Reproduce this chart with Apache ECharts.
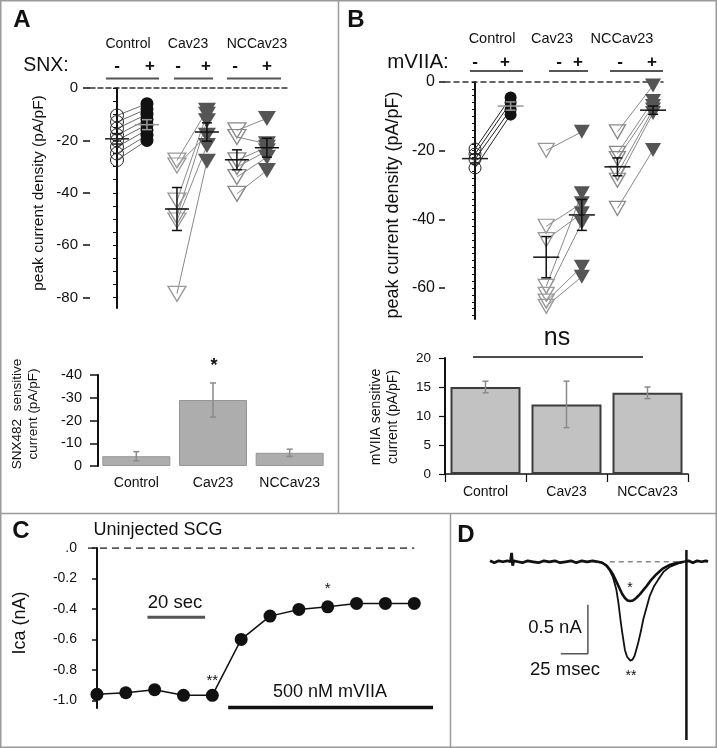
<!DOCTYPE html>
<html><head><meta charset="utf-8">
<script src="https://cdn.jsdelivr.net/npm/echarts@6/dist/echarts.min.js"></script>
<style>html,body{margin:0;padding:0;background:#fff}#c{width:717px;height:748px}</style>
</head><body><div id="c"></div>
<script>
// ---------- DATA ----------
// Panel A (SNX482), x index: 0 Control-,1 Control+,2 Cav23-,3 Cav23+,4 NCCav23-,5 NCCav23+
const groupNames = ['Control', 'Cav23', 'NCCav23'];
const aCtrlMinus = [-10.5, -13, -15.5, -18, -20, -22.5, -25, -27.5];
const aCtrlPlus  = [-6, -8, -10, -12, -14, -16, -18, -20];
const aCavMinus  = [-27.7, -43, -49, -29.6, -50.6, -78.6];
const aCavPlus   = [-8.5, -10, -12.5, -18, -22, -28];
const aNccMinus  = [-16.2, -18.7, -27.6, -30.2, -34, -40.4];
const aNccPlus   = [-11.6, -21.3, -22.6, -24, -26.4, -31.5];
const aMean = [-19.4, -14, -46.2, -16.8, -27.4, -22.8];
const aSE   = [2, 1.9, 8.2, 3.5, 3.8, 3.6];
const aTickLabels = [0, -20, -40, -60, -80];
const aMinorTicks = [0,-5,-10,-15,-20,-25,-30,-35,-40,-45,-50,-55,-60,-65,-70,-75,-80];

// Panel A bars (SNX482 sensitive current, plotted as magnitude)
const snxBar = [4.3, 29, 5.8];
const snxErr = [2, 7.5, 1.6];

// Panel B (mVIIA)
const bCtrlMinus = [-19.5, -21, -22.5, -25];
const bCtrlPlus  = [-4.5, -6, -8, -9.5];
const bCavMinus  = [-19.9, -42, -45.9, -59.5, -61.8, -63.8, -65.3];
const bCavPlus   = [-14.5, -35.3, -38.2, -32.4, -41, -53.8, -56.7];
const bNccMinus  = [-14.5, -20.8, -22.3, -26.6, -28.6, -36.8];
const bNccPlus   = [-1, -5.5, -7, -8, -9, -19.8];
const bMean = [-22.3, -7, -51, -38.7, -24.7, -8.2];
const bSE   = [1.3, 1.2, 6, 4.5, 2.6, 1.2];
const bTickLabels = [0, -20, -40, -60];
const bMinorTicks = [0,-2,-4,-6,-8,-10,-12,-14,-16,-18,-20,-22,-24,-26,-28,-30,-32,-34,-36,-38,-40,-42,-44,-46,-48,-50,-52,-54,-56,-58,-60,-62,-64,-66,-68];

// Panel B bars
const mviiaBar = [15, 12, 14];
const mviiaErr = [1, 4, 1];

// Panel C time course
const cTime = [0, 10, 20, 30, 40, 50, 60, 70, 80, 90, 100, 110];
const cIca  = [-0.96, -0.95, -0.93, -0.967, -0.967, -0.6, -0.447, -0.403, -0.386, -0.364, -0.364, -0.364];
const cTickLabels = [0, -0.2, -0.4, -0.6, -0.8, -1.0];
const cStars = {4: '**', 8: '*'};

// Panel D traces (time ms, current nA)
const dPre = [[0,0.01],[4,-0.01],[8,0.01],[12,0],[16,0.01],[19,0],[20,0.09],[21,-0.04],[22,0.01],[26,0],[30,-0.01],[35,0.01],[40,0],[45,-0.01],[50,0.01],[55,0],[60,0.01],[65,-0.01],[70,0],[75,0.01],[80,-0.01],[85,0.01],[90,0],[95,0.01],[100,0]];
const dLarge = [[100,0],[104,-0.01],[108,-0.04],[111,-0.09],[114,-0.16],[117,-0.28],[119,-0.42],[121,-0.6],[122.5,-0.72],[125,-0.9],[127,-0.97],[130,-1.01],[132,-1.0],[134,-0.96],[136,-0.88],[137.5,-0.82],[140,-0.7],[142,-0.59],[145,-0.47],[148,-0.35],[152,-0.25],[156,-0.18],[161,-0.1],[167,-0.05],[174,-0.02],[180,0]];
const dSmall = [[100,0],[104,-0.01],[108,-0.04],[111,-0.08],[114,-0.13],[117,-0.2],[120,-0.27],[122.5,-0.33],[125,-0.37],[127.5,-0.395],[130,-0.4],[132.5,-0.395],[135.5,-0.37],[139,-0.33],[142,-0.29],[145,-0.25],[149,-0.19],[154,-0.13],[160,-0.07],[167,-0.03],[174,-0.01],[180,0]];
const dArtifact = [[182,0.12],[182,-1.82]];
const dPost = [[180,0],[184,0.01],[188,-0.01],[192,0.01],[196,0],[200,0.01],[202,0]];

// ---------- CHART ----------
const FONT = '"Liberation Sans", Arial, Helvetica, sans-serif';
const chart = echarts.init(document.getElementById('c'), null, {renderer: 'canvas'});
const series = [];

function pairLines(ax, xi, minus, plus, color, width) {
  minus.forEach((v, k) => series.push({
    type: 'line', xAxisIndex: ax, yAxisIndex: ax, data: [[xi, v], [xi + 1, plus[k]]],
    symbol: 'none', lineStyle: {color: color, width: width}, silent: true, z: 1, animation: false
  }));
}
function pts(ax, xi, vals, symbol, size, style, rot) {
  series.push({
    type: 'scatter', xAxisIndex: ax, yAxisIndex: ax, data: vals.map(v => [xi, v]),
    symbol: symbol, symbolSize: size, symbolRotate: rot || 0,
    itemStyle: Object.assign({opacity: 1}, style), silent: true, z: 2, animation: false
  });
}
function meanSE(ax, means, ses, colors, half) {
  series.push({
    type: 'custom', xAxisIndex: ax, yAxisIndex: ax, silent: true, z: 5, animation: false,
    data: means.map((m, i) => [i, m, ses[i]]),
    renderItem: function (p, api) {
      const i = api.value(0), m = api.value(1), s = api.value(2);
      const c = api.coord([i, m]), t = api.coord([i, m + s]), b = api.coord([i, m - s]);
      const st = {stroke: colors[i], lineWidth: 1.5};
      return {type: 'group', children: [
        {type: 'line', shape: {x1: c[0] - half, y1: c[1], x2: c[0] + half, y2: c[1]}, style: st},
        {type: 'line', shape: {x1: c[0], y1: t[1], x2: c[0], y2: b[1]}, style: st},
        {type: 'line', shape: {x1: c[0] - 5, y1: t[1], x2: c[0] + 5, y2: t[1]}, style: st},
        {type: 'line', shape: {x1: c[0] - 5, y1: b[1], x2: c[0] + 5, y2: b[1]}, style: st}
      ]};
    }
  });
}
function barErr(ax, vals, errs, color, capHalf) {
  series.push({
    type: 'custom', xAxisIndex: ax, yAxisIndex: ax, silent: true, z: 5, animation: false,
    data: vals.map((v, i) => [i, v, errs[i]]),
    renderItem: function (p, api) {
      const i = api.value(0), v = api.value(1), e = api.value(2);
      const t = api.coord([i, v + e]), b = api.coord([i, v - e]);
      const st = {stroke: color, lineWidth: 1.5};
      return {type: 'group', children: [
        {type: 'line', shape: {x1: t[0], y1: t[1], x2: b[0], y2: b[1]}, style: st},
        {type: 'line', shape: {x1: t[0] - capHalf, y1: t[1], x2: t[0] + capHalf, y2: t[1]}, style: st},
        {type: 'line', shape: {x1: b[0] - capHalf, y1: b[1], x2: b[0] + capHalf, y2: b[1]}, style: st}
      ]};
    }
  });
}

const OPEN = 'rgba(0,0,0,0)';
// Panel A scatter (axis 0)
pairLines(0, 0, aCtrlMinus, aCtrlPlus, '#444', 0.8);
pairLines(0, 2, aCavMinus, aCavPlus, '#8a8a8a', 1);
pairLines(0, 4, aNccMinus, aNccPlus, '#8a8a8a', 1);
pts(0, 0, aCtrlMinus, 'circle', 13, {color: OPEN, borderColor: '#222', borderWidth: 1});
pts(0, 1, aCtrlPlus, 'circle', 13, {color: '#111'});
pts(0, 2, aCavMinus, 'triangle', [18, 15], {color: OPEN, borderColor: '#999', borderWidth: 1.3}, 180);
pts(0, 3, aCavPlus, 'triangle', [18, 15], {color: '#555'}, 180);
pts(0, 4, aNccMinus, 'triangle', [18, 15], {color: OPEN, borderColor: '#888', borderWidth: 1.3}, 180);
pts(0, 5, aNccPlus, 'triangle', [18, 15], {color: '#555'}, 180);
meanSE(0, aMean, aSE, ['#222', '#999', '#111', '#111', '#111', '#111'], 12);

// Panel A bars (axis 1)
series.push({type: 'bar', xAxisIndex: 1, yAxisIndex: 1, data: snxBar, barWidth: 68,
  itemStyle: {color: '#adadad', borderColor: '#959595', borderWidth: 1}, silent: true, animation: false});
barErr(1, snxBar, snxErr, '#8a8a8a', 3);

// Panel B scatter (axis 2)
pairLines(2, 0, bCtrlMinus, bCtrlPlus, '#222', 1);
pairLines(2, 2, bCavMinus, bCavPlus, '#8a8a8a', 1);
pairLines(2, 4, bNccMinus, bNccPlus, '#8a8a8a', 1);
pts(2, 0, bCtrlMinus, 'circle', 12, {color: OPEN, borderColor: '#222', borderWidth: 1});
pts(2, 1, bCtrlPlus, 'circle', 12, {color: '#111'});
pts(2, 2, bCavMinus, 'triangle', [16, 14], {color: OPEN, borderColor: '#999', borderWidth: 1.3}, 180);
pts(2, 3, bCavPlus, 'triangle', [16, 14], {color: '#555'}, 180);
pts(2, 4, bNccMinus, 'triangle', [16, 14], {color: OPEN, borderColor: '#888', borderWidth: 1.3}, 180);
pts(2, 5, bNccPlus, 'triangle', [16, 14], {color: '#555'}, 180);
meanSE(2, bMean, bSE, ['#222', '#999', '#111', '#111', '#111', '#111'], 13);

// Panel B bars (axis 3)
series.push({type: 'bar', xAxisIndex: 3, yAxisIndex: 3, data: mviiaBar, barWidth: 70,
  itemStyle: {color: '#c2c2c2', borderColor: '#3c3c3c', borderWidth: 2}, silent: true, animation: false});
barErr(3, mviiaBar, mviiaErr, '#8a8a8a', 3);

// Panel C (axis 4)
series.push({type: 'line', xAxisIndex: 4, yAxisIndex: 4, data: [[-3.1, 0], [110, 0]], symbol: 'none',
  lineStyle: {color: '#222', width: 1.5, type: [7, 5]}, silent: true, animation: false, z: 1});
series.push({type: 'line', xAxisIndex: 4, yAxisIndex: 4, data: [[17.5, -0.455], [37.5, -0.455]], symbol: 'none',
  lineStyle: {color: '#555', width: 3}, silent: true, animation: false, clip: false});
series.push({type: 'line', xAxisIndex: 4, yAxisIndex: 4, data: [[45.5, -1.046], [116.5, -1.046]], symbol: 'none',
  lineStyle: {color: '#111', width: 3.5}, silent: true, animation: false, clip: false});
series.push({type: 'line', xAxisIndex: 4, yAxisIndex: 4, symbol: 'circle', symbolSize: 13,
  data: cTime.map((t, i) => cStars[i] ? {value: [t, cIca[i]], label: {show: true, formatter: cStars[i], position: 'top', distance: i === 8 ? 4 : 0, fontSize: 15, color: '#111', fontFamily: FONT}} : [t, cIca[i]]),
  lineStyle: {color: '#111', width: 1.5}, itemStyle: {color: '#111'}, silent: true, animation: false, z: 3});

// Panel D (axis 5)
const dLine = (data, w, color, type) => series.push({type: 'line', xAxisIndex: 5, yAxisIndex: 5, data: data,
  symbol: 'none', lineStyle: {color: color || '#111', width: w, type: type || 'solid'}, silent: true, animation: false, clip: false});
dLine([[111, 0], [179, 0]], 1.5, '#888', [5, 4]);
dLine(dPre, 2.8);
dLine(dLarge, 1.8);
dLine(dSmall, 2.6);
dLine(dArtifact, 2.5);
dLine(dPost, 2.8);
dLine([[65.7, -0.94], [90.7, -0.94], [90.7, -0.44]], 1.5, '#555');

const tickLbl = {color: '#111', fontFamily: FONT};
const option = {
  backgroundColor: '#fff',
  animation: false,
  grid: [
    {left: 90, top: 88, width: 197, height: 220},
    {left: 98, top: 375, width: 230, height: 91},
    {left: 445, top: 82, width: 218, height: 237},
    {left: 445, top: 358, width: 243, height: 116},
    {left: 88, top: 548, width: 345, height: 160},
    {left: 490, top: 550, width: 218, height: 190}
  ],
  xAxis: [
    {gridIndex: 0, type: 'value', min: -0.9, max: 5.67, position: 'top',
      axisLine: {show: true, onZero: true, lineStyle: {color: '#333', width: 1.5, type: [5, 3]}},
      axisTick: {show: false}, axisLabel: {show: false}, splitLine: {show: false}},
    {gridIndex: 1, type: 'category', data: groupNames, axisLine: {show: false}, axisTick: {show: false},
      axisLabel: Object.assign({fontSize: 14, margin: 10, interval: 0, hideOverlap: false}, tickLbl)},
    {gridIndex: 2, type: 'value', min: -0.843, max: 5.28, position: 'top',
      axisLine: {show: true, onZero: true, lineStyle: {color: '#333', width: 1.5, type: [5, 4]}},
      axisTick: {show: false}, axisLabel: {show: false}, splitLine: {show: false}},
    {gridIndex: 3, type: 'category', data: groupNames,
      axisLine: {show: true, lineStyle: {color: '#111', width: 1.5}},
      axisTick: {show: true, length: 8, lineStyle: {color: '#111', width: 1.2}},
      axisLabel: Object.assign({fontSize: 14, margin: 11, interval: 0, hideOverlap: false}, tickLbl)},
    {gridIndex: 4, type: 'value', min: -3.1, max: 116.5, show: false},
    {gridIndex: 5, type: 'value', min: 0, max: 202, show: false}
  ],
  yAxis: [
    {gridIndex: 0, type: 'value', position: 'left', min: -84, max: 0,
      axisLine: {show: true, lineStyle: {color: '#111', width: 2}},
      axisTick: {show: true, customValues: aMinorTicks, length: 4, lineStyle: {color: '#111'}},
      axisLabel: Object.assign({customValues: aTickLabels, fontSize: 15, margin: 12}, tickLbl),
      splitLine: {show: false}},
    {gridIndex: 1, type: 'value', position: 'left', min: 0, max: 40, interval: 10,
      axisLine: {show: true, lineStyle: {color: '#111', width: 2}},
      axisTick: {show: true, length: 8, lineStyle: {color: '#111', width: 1.5}},
      axisLabel: Object.assign({fontSize: 14.5, margin: 16, formatter: v => v === 0 ? '0' : '-' + v}, tickLbl),
      splitLine: {show: false}},
    {gridIndex: 2, type: 'value', position: 'left', min: -69, max: 0,
      axisLine: {show: true, lineStyle: {color: '#111', width: 2}},
      axisTick: {show: true, customValues: bMinorTicks, length: 3, lineStyle: {color: '#111'}},
      axisLabel: Object.assign({customValues: bTickLabels, fontSize: 16, margin: 10}, tickLbl),
      splitLine: {show: false}},
    {gridIndex: 3, type: 'value', position: 'left', min: 0, max: 20, interval: 5,
      axisLine: {show: true, lineStyle: {color: '#111', width: 2}},
      axisTick: {show: true, length: 6, lineStyle: {color: '#111', width: 1.2}},
      axisLabel: Object.assign({fontSize: 13.5, margin: 14}, tickLbl),
      splitLine: {show: false}},
    {gridIndex: 4, type: 'value', position: 'left', min: -1.05, max: 0,
      axisLine: {show: true, lineStyle: {color: '#111', width: 2}},
      axisTick: {show: true, customValues: cTickLabels, length: 5, lineStyle: {color: '#111', width: 1.5}},
      axisLabel: Object.assign({customValues: cTickLabels, fontSize: 14, margin: 11,
        formatter: v => v === 0 ? '.0' : v.toFixed(1)}, tickLbl),
      splitLine: {show: false}},
    {gridIndex: 5, type: 'value', min: -1.82, max: 0.12, show: false},
    {gridIndex: 0, type: 'value', position: 'left', offset: 0, min: -84, max: 0, axisLine: {show: false},
      axisTick: {show: true, customValues: aTickLabels, length: 7, lineStyle: {color: '#111', width: 1.5}},
      axisLabel: {show: false}, splitLine: {show: false}},
    {gridIndex: 2, type: 'value', position: 'left', offset: 0, min: -69, max: 0, axisLine: {show: false},
      axisTick: {show: true, customValues: bTickLabels, length: 6, lineStyle: {color: '#111', width: 1.5}},
      axisLabel: {show: false}, splitLine: {show: false}}
  ],
  series: series,
  graphic: []
};

// ---------- annotations ----------
const G = option.graphic;
const txt = (text, x, y, size, opts) => G.push(Object.assign({type: 'text', x: x, y: y, silent: true, z: 100,
  style: Object.assign({text: text, font: (opts && opts.weight ? opts.weight + ' ' : '') + size + 'px ' + FONT,
    fill: '#111', textAlign: 'center', textVerticalAlign: 'middle'}, opts && opts.style)}, opts && opts.el));
const ln = (x1, y1, x2, y2, color, w, dash) => G.push({type: 'line', silent: true, z: 100,
  shape: {x1: x1, y1: y1, x2: x2, y2: y2}, style: {stroke: color, lineWidth: w, lineDash: dash || null}});
const rot = {rotation: Math.PI / 2};

// frames
G.push({type: 'rect', silent: true, z: 100, shape: {x: 0.75, y: 0.75, width: 715.5, height: 746.5}, style: {fill: 'none', stroke: '#9a9a9a', lineWidth: 1.5}});
ln(338.5, 0, 338.5, 513, '#9a9a9a', 1.5);
ln(0, 513.5, 717, 513.5, '#9a9a9a', 1.5);
ln(450.5, 513, 450.5, 748, '#9a9a9a', 1.5);

// panel letters
txt('A', 22, 20, 24, {weight: 'bold'});
txt('B', 356, 20, 24, {weight: 'bold'});
txt('C', 21, 531, 24, {weight: 'bold'});
txt('D', 466, 535, 24, {weight: 'bold'});

// Panel A header
txt('Control', 128, 44, 14);
txt('Cav23', 188, 44, 14);
txt('NCCav23', 257, 44, 14);
txt('SNX:', 46, 66, 19.5);
[['-', 117], ['+', 150], ['-', 178], ['+', 206], ['-', 235], ['+', 267]].forEach(s => txt(s[0], s[1], 66, 17, {weight: 'bold'}));
ln(106, 78.5, 159, 78.5, '#555', 2);
ln(174, 78.5, 213, 78.5, '#555', 2);
ln(227, 78.5, 281, 78.5, '#555', 2);
txt('peak current density (pA/pF)', 39, 193, 15.5, {el: rot});
// Panel A bars
txt('SNX482  sensitive', 17, 414, 13.5, {el: rot});
txt('current (pA/pF)', 33, 414, 13.5, {el: rot});
txt('*', 214, 366, 18, {weight: 'bold'});

// Panel B header
txt('Control', 492, 39, 14.5);
txt('Cav23', 552, 39, 14.5);
txt('NCCav23', 622, 39, 14.5);
txt('mVIIA:', 418, 62, 20.5);
[['-', 475], ['+', 505], ['-', 559], ['+', 578], ['-', 620], ['+', 652]].forEach(s => txt(s[0], s[1], 62, 17, {weight: 'bold'}));
ln(470, 71, 523, 71, '#555', 2);
ln(549, 71, 588, 71, '#555', 2);
ln(610, 71, 663, 71, '#555', 2);
txt('peak current density (pA/pF)', 393, 205, 18, {el: rot});
// Panel B bars
txt('ns', 557, 338, 25);
ln(473, 357, 643, 357, '#111', 1.5);
txt('mVIIA sensitive', 376, 417, 14, {el: rot});
txt('current (pA/pF)', 393, 417, 14, {el: rot});

// Panel C
txt('Uninjected SCG', 158, 530, 18);
txt('Ica (nA)', 20, 623, 18, {el: rot});
txt('20 sec', 175, 603, 18.5);
txt('500 nM mVIIA', 330, 692, 18);

// Panel D
txt('0.5 nA', 555, 628, 18.5);
txt('25 msec', 565, 670, 18.5);
txt('*', 630, 588, 14);
txt('**', 631, 676, 14);

chart.setOption(option);
</script></body></html>
